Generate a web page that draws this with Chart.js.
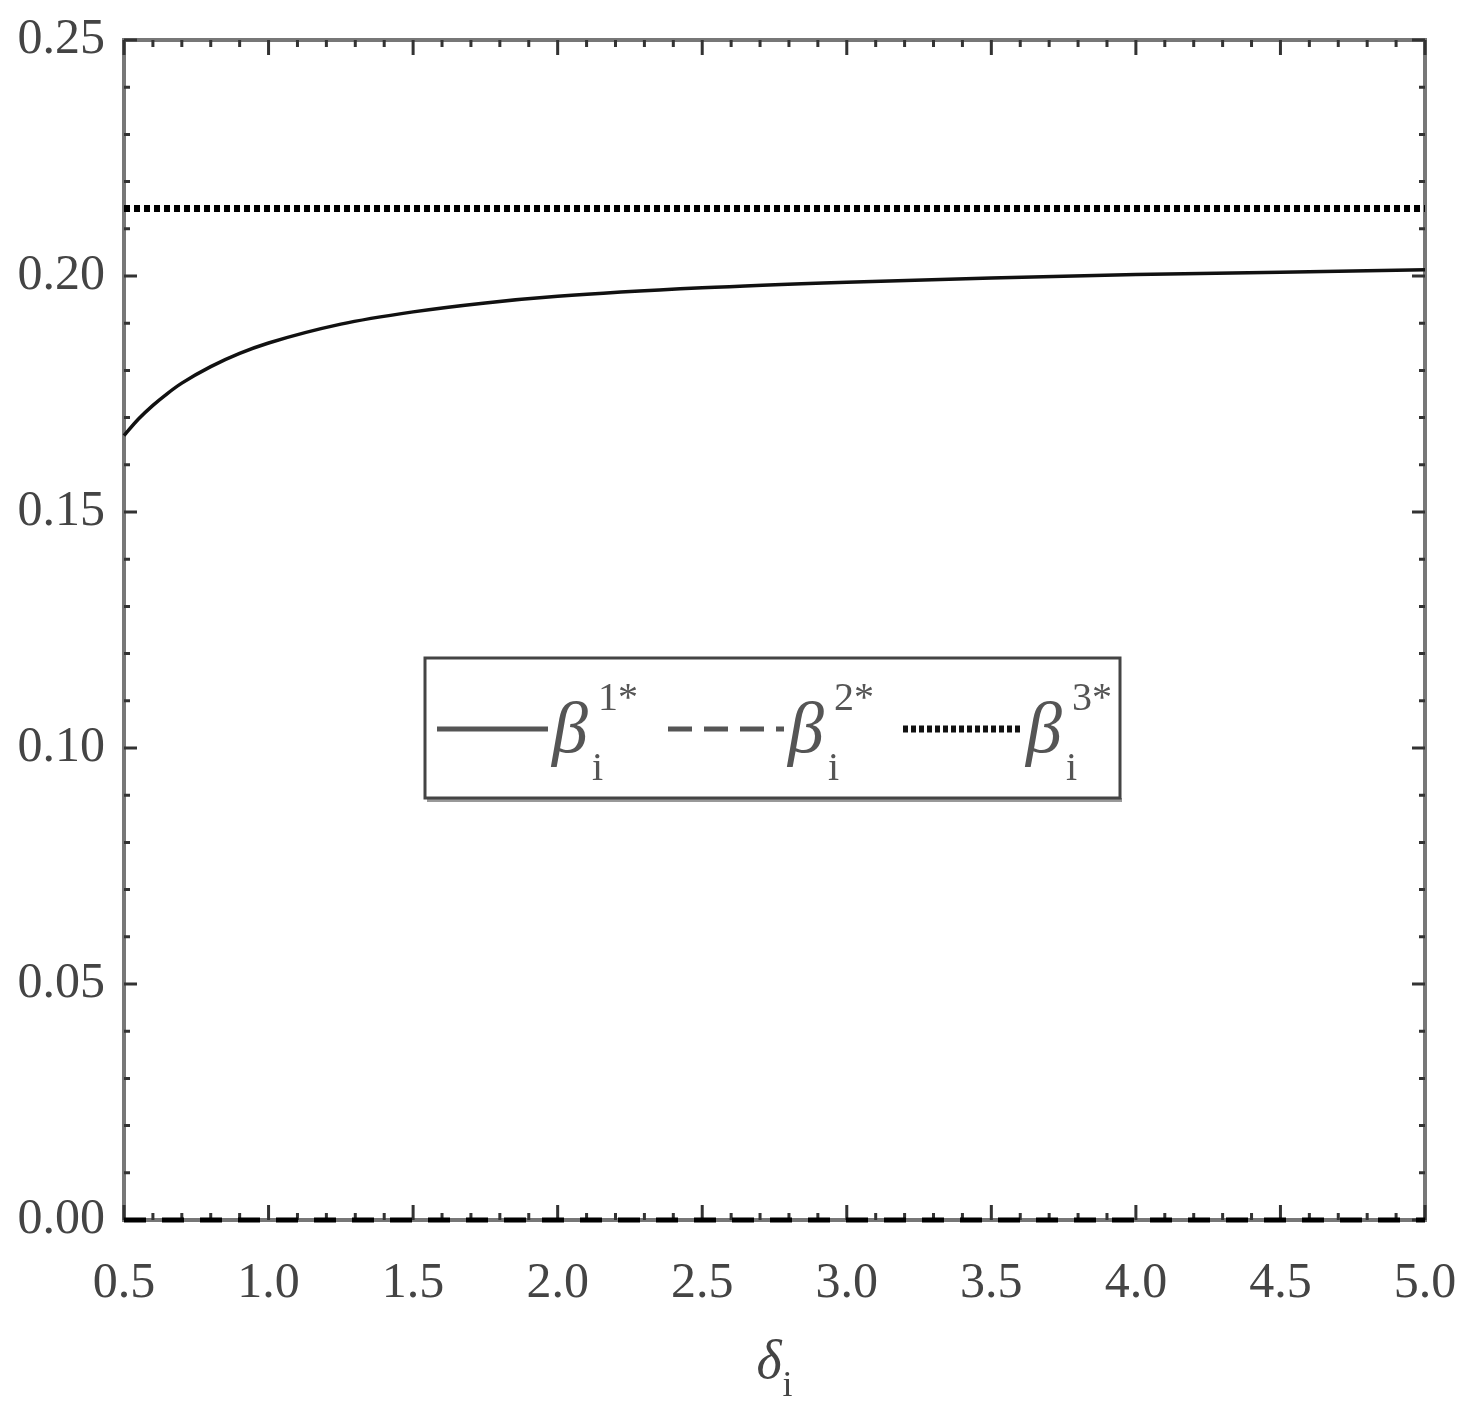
<!DOCTYPE html>
<html>
<head>
<meta charset="utf-8">
<script src="https://cdn.jsdelivr.net/npm/chart.js@4.4.1/dist/chart.umd.min.js"></script>
<style>
  html, body { margin: 0; padding: 0; background: #fff; }
  #wrap { width: 1472px; height: 1419px; }
</style>
</head>
<body>
<div id="wrap"><canvas id="betaChart" width="1472" height="1419"></canvas></div>
<script>
// values
let deltaValues = [0.5, 0.55, 0.6, 0.65, 0.7, 0.8, 0.9, 1.0, 1.25, 1.5, 1.75, 2.0, 2.5, 3.0, 3.5, 4.0, 4.5, 5.0];
let beta1 = [0.1662, 0.1697, 0.1726, 0.1751, 0.1773, 0.1808, 0.1836, 0.1858, 0.1898, 0.1924, 0.1943, 0.1957, 0.1975, 0.1987, 0.1996, 0.2003, 0.2008, 0.2013];
let beta2 = [0, 0, 0, 0, 0, 0, 0, 0, 0, 0, 0, 0, 0, 0, 0, 0, 0, 0];
let beta3 = [0.2143, 0.2143, 0.2143, 0.2143, 0.2143, 0.2143, 0.2143, 0.2143, 0.2143, 0.2143, 0.2143, 0.2143, 0.2143, 0.2143, 0.2143, 0.2143, 0.2143, 0.2143];

let xTickLabels = [0.5, 1.0, 1.5, 2.0, 2.5, 3.0, 3.5, 4.0, 4.5, 5.0];
let yTickLabels = [0.00, 0.05, 0.10, 0.15, 0.20, 0.25];
let xMinorStep = 0.1;
let yMinorStep = 0.01;

function toPoints(xs, ys) {
    return xs.map((x, i) => ({ x: x, y: ys[i] }));
}

let serif = "'Liberation Serif', 'DejaVu Serif', serif";

// frame and inward ticks on all four sides
let framePlugin = {
    id: "frame",
    beforeDatasetsDraw(chart) {
        let ctx = chart.ctx;
        let a = chart.chartArea;
        let xs = chart.scales.x, ys = chart.scales.y;
        ctx.save();
        ctx.strokeStyle = "#777";
        ctx.lineWidth = 4;
        ctx.strokeRect(a.left, a.top, a.right - a.left, a.bottom - a.top);
        ctx.strokeStyle = "#333";
        ctx.lineWidth = 3;
        let nx = Math.round((xs.max - xs.min) / xMinorStep);
        for (let i = 0; i <= nx; i++) {
            let v = xs.min + i * xMinorStep;
            let major = xTickLabels.some(t => Math.abs(t - v) < 1e-6);
            let len = major ? 15 : 7;
            let px = xs.getPixelForValue(v);
            ctx.beginPath();
            ctx.moveTo(px, a.bottom); ctx.lineTo(px, a.bottom - len);
            ctx.moveTo(px, a.top); ctx.lineTo(px, a.top + len);
            ctx.stroke();
        }
        let ny = Math.round((ys.max - ys.min) / yMinorStep);
        for (let i = 0; i <= ny; i++) {
            let v = ys.min + i * yMinorStep;
            let major = yTickLabels.some(t => Math.abs(t - v) < 1e-6);
            let len = major ? 13 : 6;
            let py = ys.getPixelForValue(v);
            ctx.beginPath();
            ctx.moveTo(a.left, py); ctx.lineTo(a.left + len, py);
            ctx.moveTo(a.right, py); ctx.lineTo(a.right - len, py);
            ctx.stroke();
        }
        ctx.restore();
    },
    afterDraw(chart) {
        let ctx = chart.ctx;
        let a = chart.chartArea;
        ctx.save();
        // axis title delta_i
        let cx = (a.left + a.right) / 2;
        ctx.fillStyle = "#444";
        ctx.textBaseline = "alphabetic";
        ctx.font = "italic 54px " + serif;
        ctx.fillText("δ", cx - 18, 1378);
        ctx.font = "36px " + serif;
        ctx.fillText("i", cx + 8, 1396);

        // legend box
        let bx = 425, by = 658, bw = 695, bh = 140;
        ctx.fillStyle = "#fff";
        ctx.fillRect(bx, by, bw, bh);
        ctx.fillStyle = "#999";
        ctx.fillRect(bx + 2, by + bh, bw, 4);
        ctx.strokeStyle = "#444";
        ctx.lineWidth = 3;
        ctx.strokeRect(bx, by, bw, bh);

        let ly = 729;
        let entries = [
            { x0: 437, x1: 548, dash: [], width: 5, color: "#555", tx: 552, sup: "1*" },
            { x0: 668, x1: 784, dash: [24, 12], width: 5, color: "#555", tx: 788, sup: "2*" },
            { x0: 903, x1: 1020, dash: [5, 3], width: 7, color: "#111", tx: 1026, sup: "3*" }
        ];
        entries.forEach(e => {
            ctx.beginPath();
            ctx.setLineDash(e.dash);
            ctx.lineWidth = e.width;
            ctx.strokeStyle = e.color;
            ctx.moveTo(e.x0, ly); ctx.lineTo(e.x1, ly);
            ctx.stroke();
            ctx.setLineDash([]);
            ctx.fillStyle = "#555";
            ctx.font = "italic 72px " + serif;
            ctx.fillText("β", e.tx, 752);
            ctx.font = "40px " + serif;
            ctx.fillText(e.sup, e.tx + 46, 710);
            ctx.fillText("i", e.tx + 40, 780);
        });
        ctx.restore();
    }
};

function noScalePadding(scale) {
    scale.paddingTop = 0;
    scale.paddingBottom = 0;
    scale.paddingLeft = 0;
    scale.paddingRight = 0;
}

let ctx = document.getElementById("betaChart").getContext("2d");
let betaChart = new Chart(ctx, {
    type: "line",
    data: {
        datasets: [
            { label: "beta1", data: toPoints(deltaValues, beta1), borderColor: "#111", borderWidth: 3.5, pointRadius: 0, fill: false, cubicInterpolationMode: "monotone", clip: false },
            { label: "beta2", data: toPoints(deltaValues, beta2), borderColor: "#000", borderWidth: 5, borderDash: [22, 16], pointRadius: 0, fill: false, clip: false },
            { label: "beta3", data: toPoints(deltaValues, beta3), borderColor: "#000", borderWidth: 7, borderDash: [6, 4], pointRadius: 0, fill: false, clip: false }
        ]
    },
    options: {
        responsive: false,
        animation: false,
        layout: { padding: { left: 0, top: 40, right: 47, bottom: 0 } },
        plugins: { legend: { display: false }, tooltip: { enabled: false } },
        scales: {
            x: {
                type: "linear",
                min: 0.5,
                max: 5.0,
                grid: { display: false, drawTicks: false },
                border: { display: false },
                afterBuildTicks(scale) { scale.ticks = xTickLabels.map(v => ({ value: v })); },
                afterFit(scale) { scale.height = 199; noScalePadding(scale); },
                ticks: {
                    color: "#444",
                    padding: 34,
                    maxRotation: 0,
                    autoSkip: false,
                    font: { family: serif, size: 50 },
                    callback: v => Number(v).toFixed(1)
                }
            },
            y: {
                type: "linear",
                min: 0,
                max: 0.25,
                grid: { display: false, drawTicks: false },
                border: { display: false },
                afterBuildTicks(scale) { scale.ticks = yTickLabels.map(v => ({ value: v })); },
                afterFit(scale) { scale.width = 124; noScalePadding(scale); },
                ticks: {
                    color: "#444",
                    padding: 19,
                    font: { family: serif, size: 50 },
                    callback: v => Number(v).toFixed(2)
                }
            }
        }
    },
    plugins: [framePlugin]
});
</script>
</body>
</html>
